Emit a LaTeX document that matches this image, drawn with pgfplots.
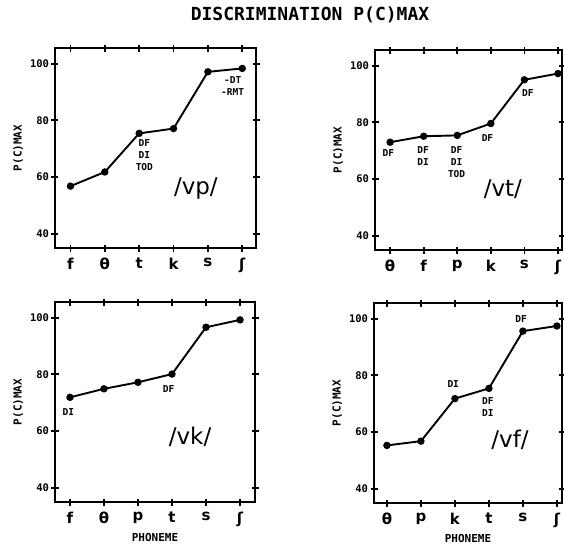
\documentclass[border=0pt]{standalone}
\usepackage{fontspec}
\setmainfont{DejaVu Sans Mono}
\newfontfamily\phon{DejaVu Sans}
\usepackage{pgfplots}
\pgfplotsset{compat=1.18}

\pgfplotsset{
  panel/.style={
    scale only axis, height=200pt,
    ymin=35, ymax=105.5,
    ytick={40,60,80,100}, xtick={0,...,5},
    tick align=center, major tick length=7pt,
    axis line style={line width=2.6pt},
    tick style={line width=1.8pt, black},
    /pgf/number format/assume math mode=true,
    yticklabel style={font=\bfseries\fontsize{10.5}{10.5}\selectfont, xshift=1pt},
    xticklabel style={font=\phon\bfseries\fontsize{15}{15}\selectfont, yshift=-3pt},
    ylabel={P(C)MAX},
    ylabel style={font=\bfseries\fontsize{11}{11}\selectfont},
    xlabel style={font=\bfseries\fontsize{11}{11}\selectfont},
  },
  curve/.style={black, line width=1.9pt, mark=*, mark size=2.7pt},
}
\tikzset{
  ann/.style={font=\bfseries\fontsize{9.5}{12}\selectfont, align=center, inner sep=0pt},
  big/.style={font=\phon\fontsize{23}{23}\selectfont},
}

\begin{document}
\begin{tikzpicture}
\path[use as bounding box] (0pt,0pt) rectangle (564pt,-547pt);

\node[font=\bfseries\fontsize{18}{18}\selectfont] at (310pt,-15pt) {DISCRIMINATION P(C)MAX};

% /vp/
\begin{axis}[panel, at={(55pt,-248pt)}, anchor=south west, width=201pt,
  xmin=-0.45, xmax=5.4,
  xticklabels={f,θ,t,k,s,ʃ}]
\addplot[curve] coordinates {(0,56.8) (1,61.8) (2,75.4) (3,77.1) (4,97.1) (5,98.3)};
\node[ann, anchor=north] at (axis cs:2.15,73.2) {DF\\DI\\TOD};
\node[ann, anchor=north] at (axis cs:4.72,95.4) {-DT\\-RMT};
\node[big] at (axis cs:3.65,55.8) {/vp/};
\end{axis}

% /vt/
\begin{axis}[panel, at={(375pt,-250pt)}, anchor=south west, width=187pt,
  xmin=-0.45, xmax=5.12,
  xticklabels={θ,f,p,k,s,ʃ}]
\addplot[curve] coordinates {(0,73.0) (1,75.1) (2,75.4) (3,79.6) (4,95.0) (5,97.2)};
\node[ann, anchor=north] at (axis cs:-0.05,70.6) {DF};
\node[ann, anchor=north] at (axis cs:0.98,71.6) {DF\\DI};
\node[ann, anchor=north] at (axis cs:1.98,71.6) {DF\\DI\\TOD};
\node[ann] at (axis cs:2.9,74.4) {DF};
\node[ann] at (axis cs:4.1,90.2) {DF};
\node[big] at (axis cs:3.36,56.5) {/vt/};
\end{axis}

% /vk/
\begin{axis}[panel, at={(55pt,-502pt)}, anchor=south west, width=200pt,
  xmin=-0.44, xmax=5.44,
  xticklabels={f,θ,p,t,s,ʃ}, xlabel={PHONEME}]
\addplot[curve] coordinates {(0,71.9) (1,74.9) (2,77.2) (3,80.1) (4,96.6) (5,99.2)};
\node[ann] at (axis cs:-0.05,66.7) {DI};
\node[ann] at (axis cs:2.9,74.7) {DF};
\node[big] at (axis cs:3.53,57.9) {/vk/};
\end{axis}

% /vf/
\begin{axis}[panel, at={(374pt,-503pt)}, anchor=south west, width=188pt,
  xmin=-0.38, xmax=5.15,
  xticklabels={θ,p,k,t,s,ʃ}, xlabel={PHONEME}]
\addplot[curve] coordinates {(0,55.3) (1,56.8) (2,71.8) (3,75.4) (4,95.6) (5,97.4)};
\node[ann] at (axis cs:1.95,77.0) {DI};
\node[ann, anchor=north] at (axis cs:2.97,72.2) {DF\\DI};
\node[ann] at (axis cs:3.95,100.0) {DF};
\node[big] at (axis cs:3.62,57.2) {/vf/};
\end{axis}
\end{tikzpicture}
\end{document}
